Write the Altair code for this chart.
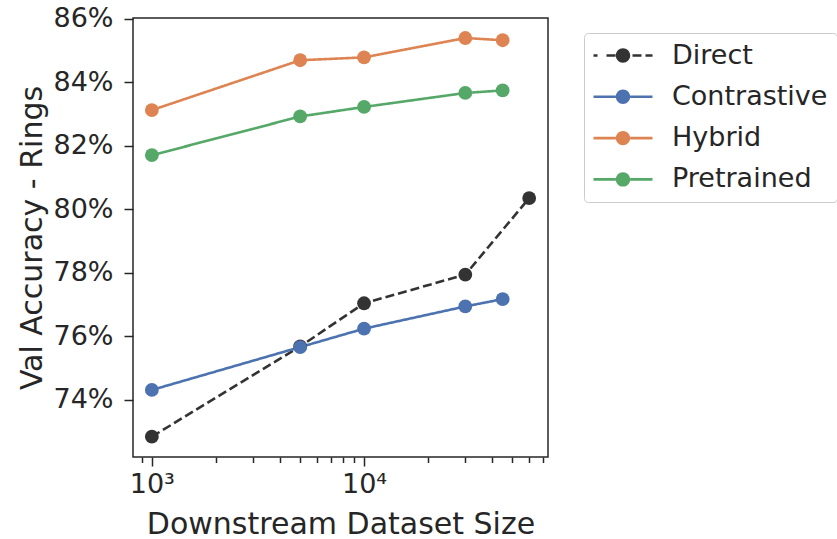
import altair as alt
import pandas as pd

series = ["Direct", "Contrastive", "Hybrid", "Pretrained"]
colors = ["#333333", "#4c72b0", "#dd8452", "#55a868"]

sizes_direct = [1000, 5000, 10000, 30000, 60000]
sizes_other = [1000, 5000, 10000, 30000, 45000]

direct = [72.84, 75.68, 77.04, 77.94, 80.35]
contrastive = [74.31, 75.66, 76.24, 76.94, 77.17]
hybrid = [83.12, 84.69, 84.78, 85.39, 85.32]
pretrained = [81.70, 82.92, 83.22, 83.66, 83.74]

x_ticks = [900, 1000, 2000, 3000, 4000, 5000, 6000, 7000, 8000, 9000,
           10000, 20000, 30000, 40000, 50000, 60000, 70000]
y_ticks = [74, 76, 78, 80, 82, 84, 86]

rows = []
for s, xs, vals in [("Direct", sizes_direct, direct),
                    ("Contrastive", sizes_other, contrastive),
                    ("Hybrid", sizes_other, hybrid),
                    ("Pretrained", sizes_other, pretrained)]:
    for xv, yv in zip(xs, vals):
        rows.append({"series": s, "size": xv, "acc": yv})
df = pd.DataFrame(rows)

FONT = "DejaVu Sans"
TXT = "#262626"

x_enc = alt.X(
    "size:Q",
    scale=alt.Scale(type="log", domain=[815, 73600], nice=False),
    axis=alt.Axis(
        values=x_ticks,
        labelExpr="datum.value == 1000 ? '10³' : (datum.value == 10000 ? '10⁴' : '')",
        tickSize={"condition": {"test": "datum.value == 1000 || datum.value == 10000", "value": 9}, "value": 5.5},
        tickWidth=1.5,
        tickColor=TXT,
        domain=False,
        grid=False,
        labelOverlap=False,
        labelFontSize=27,
        labelFont=FONT,
        labelColor=TXT,
        labelPadding=5,
        titleFontSize=30,
        titleFont=FONT,
        titleColor=TXT,
        titleFontWeight="normal",
        titlePadding=12,
    ),
    title="Downstream Dataset Size",
)
y_enc = alt.Y(
    "acc:Q",
    scale=alt.Scale(domain=[72.2, 86.02], nice=False, zero=False),
    axis=alt.Axis(
        values=y_ticks,
        labelExpr="datum.value + '%'",
        tickSize=9,
        tickWidth=1.5,
        tickColor=TXT,
        domain=False,
        grid=False,
        labelFontSize=27,
        labelFont=FONT,
        labelColor=TXT,
        labelPadding=11,
        titleFontSize=30,
        titleFont=FONT,
        titleColor=TXT,
        titleFontWeight="normal",
        titlePadding=5,
    ),
    title="Val Accuracy - Rings",
)

color_scale = alt.Scale(domain=series, range=colors)

lines = alt.Chart(df).mark_line(strokeWidth=2.6).encode(
    x=x_enc,
    y=y_enc,
    color=alt.Color("series:N", scale=color_scale, legend=None),
    strokeDash=alt.StrokeDash(
        "series:N",
        scale=alt.Scale(domain=series, range=[[9, 4], [1, 0], [1, 0], [1, 0]]),
        legend=None,
    ),
)

points = alt.Chart(df).mark_point(filled=True, size=190, opacity=1).encode(
    x=x_enc,
    y=y_enc,
    color=alt.Color("series:N", scale=color_scale, legend=None),
)

# legend symbol geometry in symbol units (1 unit = 13 px)
U = 13.0
CX = 16.5 / U          # circle centre
R = 7.2 / U            # circle radius
T = 1.3 / U            # half line thickness
END = 46.0 / U         # right end of the line
def rect(a, b):
    return f"M{a:.3f},{-T:.3f}L{b:.3f},{-T:.3f}L{b:.3f},{T:.3f}L{a:.3f},{T:.3f}Z"
circle = (f"M{CX + R:.3f},0A{R:.3f},{R:.3f} 0 1,1 {CX - R:.3f},0"
          f"A{R:.3f},{R:.3f} 0 1,1 {CX + R:.3f},0Z")
solid_path = rect(-1, CX - R) + rect(CX + R, END) + circle
dashed_path = (rect(-1, -9 / U) + rect(0, 9 / U) + rect(26 / U, 35 / U)
               + rect(39 / U, END) + circle)

legend_cfg = alt.Legend(
    orient="none",
    legendX=451,
    legendY=15,
    title=None,
    labelFontSize=27,
    labelFont=FONT,
    labelColor=TXT,
    labelOffset=52,
    labelLimit=400,
    symbolSize=676,
    symbolStrokeWidth=0,
    symbolOpacity=1,
    rowPadding=13.3,
    padding=9,
    strokeColor="#cccccc",
    fillColor="white",
    cornerRadius=4,
)

legend_layer = alt.Chart(df).transform_filter("false").mark_point(filled=True, opacity=1).encode(
    x=x_enc,
    y=y_enc,
    color=alt.Color("series:N", scale=alt.Scale(domain=series, range=colors), legend=legend_cfg),
    shape=alt.Shape("series:N",
                    scale=alt.Scale(domain=series, range=[dashed_path, solid_path, solid_path, solid_path]),
                    legend=legend_cfg),
)

chart = alt.layer(lines, points, legend_layer).resolve_scale(
    color="independent", shape="independent", strokeDash="independent"
).properties(
    width=415,
    height=439,
    autosize=alt.AutoSizeParams(type="none"),
    padding={"left": 133, "top": 18, "right": 289, "bottom": 82},
    background="white",
).configure_view(stroke=TXT, strokeWidth=1.5)

chart.save("out.html", embed_options={"renderer": "svg", "actions": False})
